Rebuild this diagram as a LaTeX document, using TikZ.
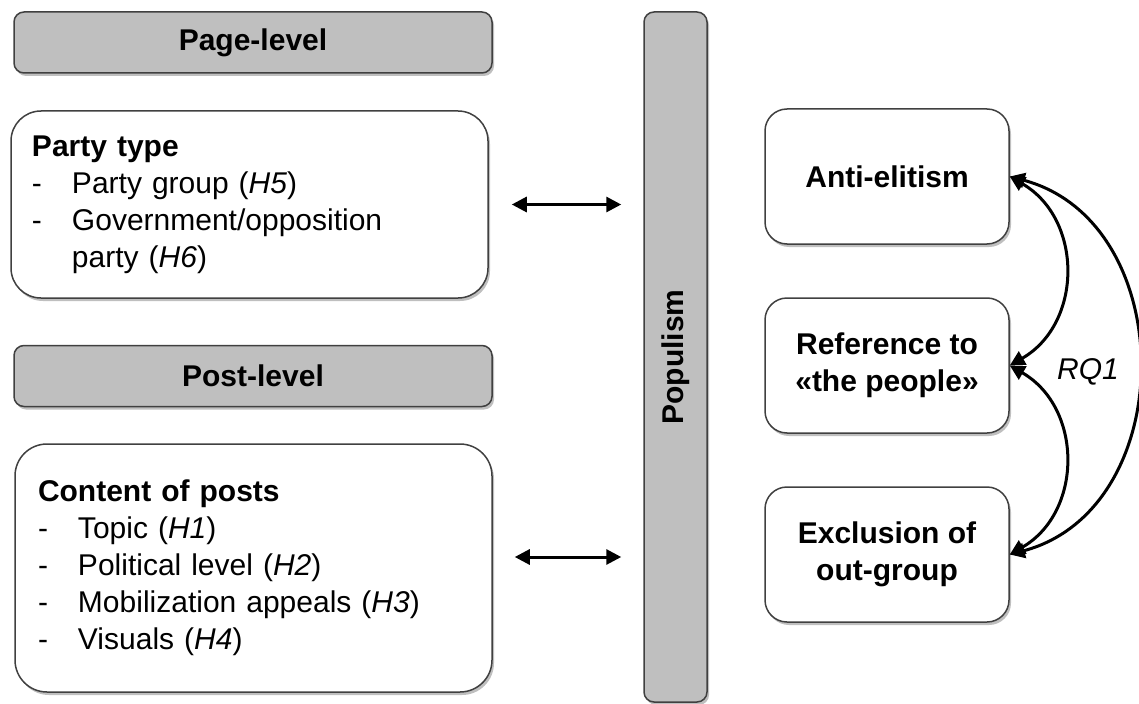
\documentclass[tikz,border=0pt]{standalone}
\usepackage{fontspec}
\setmainfont{Liberation Sans}
\usepackage{tikz}
\usetikzlibrary{arrows.meta,shadows}

\newcommand{\lvitem}[1]{\makebox[20pt][l]{-}#1}

\tikzset{
        softshadow/.style = {drop shadow = {shadow xshift = 1pt, shadow yshift = -1.5pt, fill = black, opacity = 0.25}},
        levelbar/.style = {draw = black!75, fill = black!25, line width = 0.75pt,
                rounded corners = 5pt, minimum width = 239pt, minimum height = 30.5pt,
                font = \fontsize{15pt}{18.5pt}\selectfont\bfseries, softshadow},
        listbox/.style = {draw = black!75, fill = white, line width = 0.75pt,
                align = left, font = \fontsize{15pt}{18.5pt}\selectfont, softshadow},
        dimbox/.style = {draw = black!75, fill = white, line width = 0.75pt,
                rounded corners = 11pt, minimum width = 122pt, minimum height = 67.5pt,
                align = center, font = \fontsize{15pt}{18.5pt}\selectfont\bfseries, softshadow},
        link/.style = {line width = 1.5pt,
                {Triangle[length = 7.5pt, width = 7.5pt]}-{Triangle[length = 7.5pt, width = 7.5pt]}}
}

\begin{document}
\begin{tikzpicture}[x = 0.5pt, y = 0.5pt]
        \useasboundingbox (0,0) rectangle (1139,703);
        % left column
        \node[levelbar] (pagelvl) at (253,660.5) {Page-level};
        \node[listbox,
        rounded corners = 15pt,
        minimum height = 93.5pt,
        inner xsep = 10.5pt,
        text width = 217.5pt] (partytype) at (249.5,498.5)
        {\textbf{Party type}\\
        \lvitem{Party group (\textit{H5})}\\
        \lvitem{Government/opposition}\\
        \hspace*{20pt}party (\textit{H6})};
        \node[levelbar] (postlvl) at (253,327) {Post-level};
        \node[listbox,
        rounded corners = 16pt,
        minimum height = 124pt,
        inner xsep = 11.5pt,
        text width = 215.5pt] (postcontent) at (253.5,135)
        {\textbf{Content of posts}\\
        \lvitem{Topic (\textit{H1})}\\
        \lvitem{Political level (\textit{H2})}\\
        \lvitem{Mobilization appeals (\textit{H3})}\\
        \lvitem{Visuals (\textit{H4})}};
        % populism bar
        \node[draw = black!75,
        fill = black!25,
        line width = 0.75pt,
        rounded corners = 5pt,
        minimum width = 31.5pt,
        minimum height = 345pt,
        softshadow] (populism) at (675.5,346) {};
        \node[rotate = 90, font = \fontsize{15pt}{18.5pt}\selectfont\bfseries] (poptext) at (populism.center) {Populism};
        % right column
        \node[dimbox] (antielite) at (887,526.5) {Anti-elitism};
        \node[dimbox] (people) at (887,337.5) {Reference to\\«the people»};
        \node[dimbox] (outgroup) at (887,148.5) {Exclusion of\\out-group};
        % arrows
        \draw[link] ([xshift = 11.5pt]partytype.east) -- ([xshift = -11pt]populism.west |- partytype.east);
        \coordinate (lowarrow) at ([xshift = 11pt, yshift = 5.5pt]postcontent.east);
        \draw[link] (lowarrow) -- ([xshift = -11pt]populism.west |- lowarrow);
        \draw[link] (antielite.east) to[out = -30, in = 30, looseness = 1.15] (people.east);
        \draw[link] (people.east) to[out = -30, in = 30, looseness = 1.15] (outgroup.east);
        \draw[link] (antielite.east) to[out = -15, in = 15, looseness = 1.2] (outgroup.east);
        \node[font = \fontsize{15pt}{18.5pt}\selectfont\itshape] (rq) at (1088,331) {RQ1};
\end{tikzpicture}
\end{document}
